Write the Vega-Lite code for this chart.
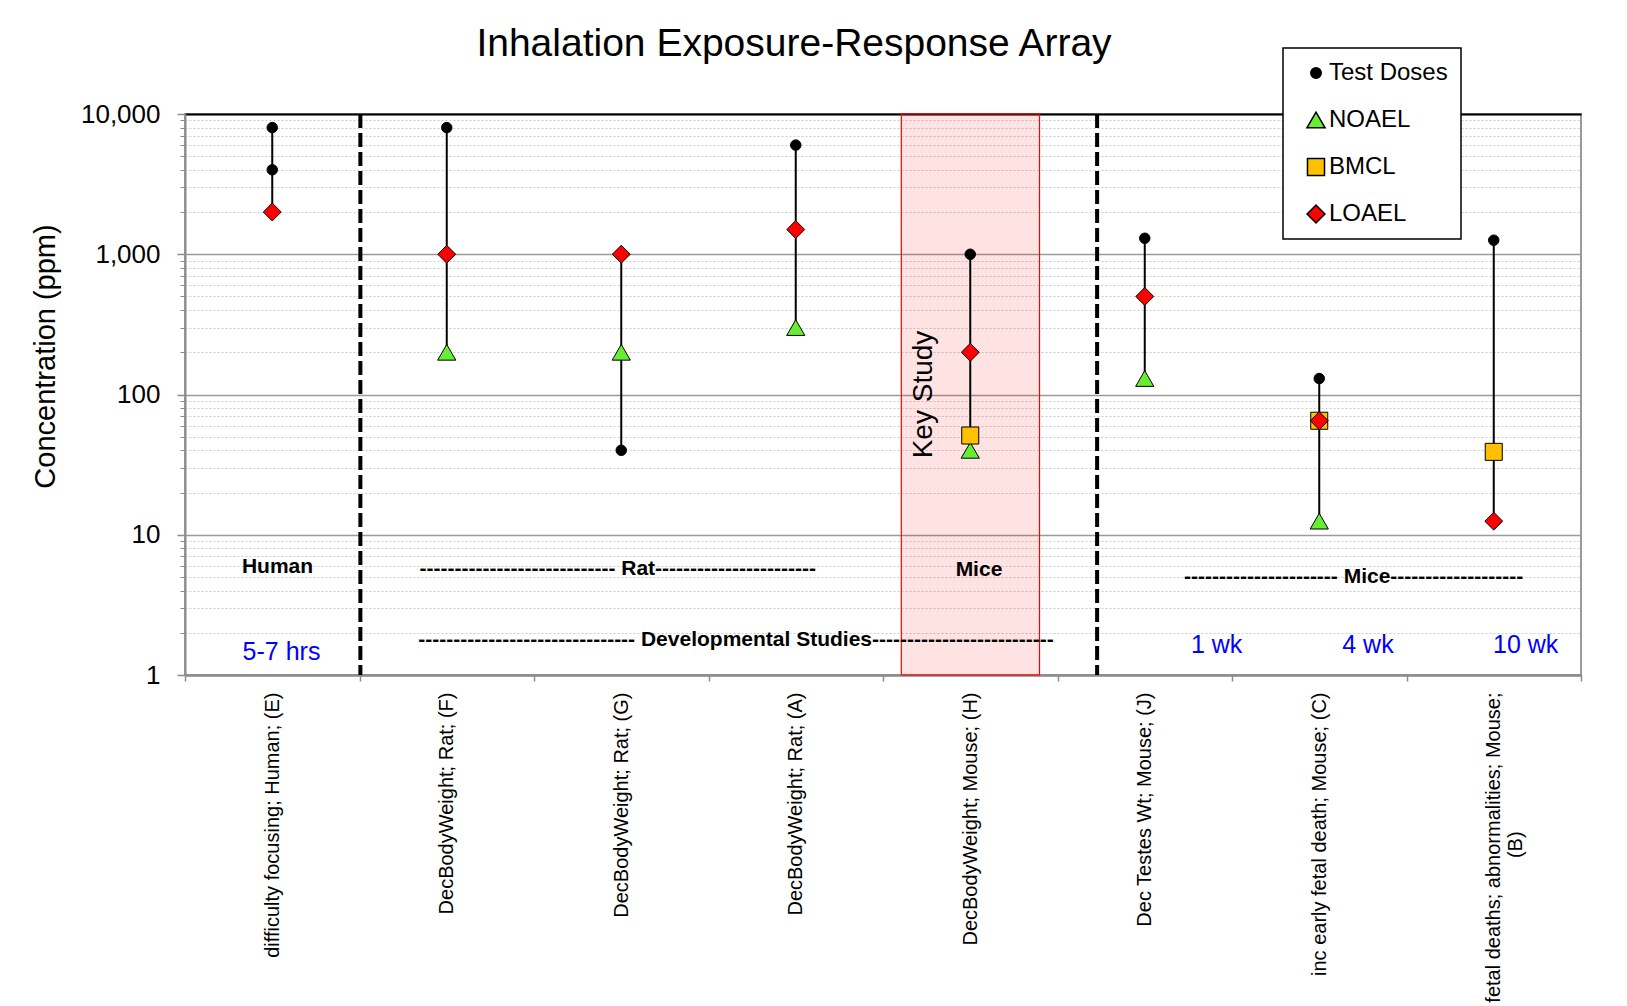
{
  "$schema": "https://vega.github.io/schema/vega-lite/v6.json",
  "width": 1396,
  "height": 561,
  "autosize": {"type": "none"},
  "padding": {"left": 185, "top": 114, "right": 46, "bottom": 331},
  "background": "white",
  "title": {
    "text": "Inhalation Exposure-Response Array",
    "font": "Liberation Sans",
    "fontSize": 39,
    "fontWeight": "normal",
    "color": "black",
    "anchor": "middle",
    "frame": "group",
    "dx": -89,
    "offset": -17
  },
  "config": {
    "font": "Liberation Sans",
    "view": {"stroke": "#9a9a9a", "strokeWidth": 2},
    "axis": {"labelFont": "Liberation Sans", "titleFont": "Liberation Sans", "labelColor": "black", "titleColor": "black", "titleFontWeight": "normal"},
    "legend": {
      "orient": "none",
      "legendX": 1098,
      "legendY": -66,
      "fillColor": "white",
      "strokeColor": "black",
      "strokeWidth": 1.5,
      "padding": 13,
      "symbolOffset": 8,
      "labelOffset": 1,
      "labelFont": "Liberation Sans",
      "labelFontSize": 24,
      "labelColor": "black",
      "rowPadding": 23
    }
  },
  "datasets": {
    "points": [
      {"study": "difficulty focusing; Human; (E)", "slot": 0.5, "type": "LOAEL", "value": 2000},
      {"study": "difficulty focusing; Human; (E)", "slot": 0.5, "type": "Test Doses", "value": 8000},
      {"study": "difficulty focusing; Human; (E)", "slot": 0.5, "type": "Test Doses", "value": 4000},
      {"study": "DecBodyWeight; Rat; (F)", "slot": 1.5, "type": "NOAEL", "value": 200},
      {"study": "DecBodyWeight; Rat; (F)", "slot": 1.5, "type": "LOAEL", "value": 1000},
      {"study": "DecBodyWeight; Rat; (F)", "slot": 1.5, "type": "Test Doses", "value": 8000},
      {"study": "DecBodyWeight; Rat; (G)", "slot": 2.5, "type": "NOAEL", "value": 200},
      {"study": "DecBodyWeight; Rat; (G)", "slot": 2.5, "type": "LOAEL", "value": 1000},
      {"study": "DecBodyWeight; Rat; (G)", "slot": 2.5, "type": "Test Doses", "value": 40},
      {"study": "DecBodyWeight; Rat; (A)", "slot": 3.5, "type": "NOAEL", "value": 300},
      {"study": "DecBodyWeight; Rat; (A)", "slot": 3.5, "type": "LOAEL", "value": 1500},
      {"study": "DecBodyWeight; Rat; (A)", "slot": 3.5, "type": "Test Doses", "value": 6000},
      {"study": "DecBodyWeight; Mouse; (H)", "slot": 4.5, "type": "NOAEL", "value": 40},
      {"study": "DecBodyWeight; Mouse; (H)", "slot": 4.5, "type": "BMCL", "value": 51},
      {"study": "DecBodyWeight; Mouse; (H)", "slot": 4.5, "type": "LOAEL", "value": 200},
      {"study": "DecBodyWeight; Mouse; (H)", "slot": 4.5, "type": "Test Doses", "value": 1000},
      {"study": "Dec Testes Wt; Mouse; (J)", "slot": 5.5, "type": "NOAEL", "value": 130},
      {"study": "Dec Testes Wt; Mouse; (J)", "slot": 5.5, "type": "LOAEL", "value": 500},
      {"study": "Dec Testes Wt; Mouse; (J)", "slot": 5.5, "type": "Test Doses", "value": 1300},
      {"study": "inc early fetal death; Mouse; (C)", "slot": 6.5, "type": "NOAEL", "value": 12.5},
      {"study": "inc early fetal death; Mouse; (C)", "slot": 6.5, "type": "BMCL", "value": 65},
      {"study": "inc early fetal death; Mouse; (C)", "slot": 6.5, "type": "LOAEL", "value": 65},
      {"study": "inc early fetal death; Mouse; (C)", "slot": 6.5, "type": "Test Doses", "value": 130},
      {"study": "fetal deaths; abnormalities; Mouse; (B)", "slot": 7.5, "type": "BMCL", "value": 39},
      {"study": "fetal deaths; abnormalities; Mouse; (B)", "slot": 7.5, "type": "LOAEL", "value": 12.5},
      {"study": "fetal deaths; abnormalities; Mouse; (B)", "slot": 7.5, "type": "Test Doses", "value": 1260}
    ],
    "stems": [
      {"study": "difficulty focusing; Human; (E)", "slot": 0.5, "lo": 2000, "hi": 8000},
      {"study": "DecBodyWeight; Rat; (F)", "slot": 1.5, "lo": 200, "hi": 8000},
      {"study": "DecBodyWeight; Rat; (G)", "slot": 2.5, "lo": 40, "hi": 1000},
      {"study": "DecBodyWeight; Rat; (A)", "slot": 3.5, "lo": 300, "hi": 6000},
      {"study": "DecBodyWeight; Mouse; (H)", "slot": 4.5, "lo": 40, "hi": 1000},
      {"study": "Dec Testes Wt; Mouse; (J)", "slot": 5.5, "lo": 130, "hi": 1300},
      {"study": "inc early fetal death; Mouse; (C)", "slot": 6.5, "lo": 12.5, "hi": 130},
      {"study": "fetal deaths; abnormalities; Mouse; (B)", "slot": 7.5, "lo": 12.5, "hi": 1260}
    ],
    "regions": [
      {"start": 4.105, "end": 4.897, "name": "Key Study"}
    ],
    "dividers": [
      {"pos": 1.005},
      {"pos": 5.227}
    ],
    "notes": [
      {"pos": 0.530, "value": 5.93, "text": "Human", "kind": "group"},
      {"pos": 2.480, "value": 5.73, "text": "---------------------------- Rat-----------------------", "kind": "group"},
      {"pos": 4.550, "value": 5.64, "text": "Mice", "kind": "group"},
      {"pos": 6.697, "value": 5.0, "text": "---------------------- Mice-------------------", "kind": "group"},
      {"pos": 3.158, "value": 1.77, "text": "------------------------------- Developmental Studies--------------------------", "kind": "group"},
      {"pos": 0.553, "value": 1.47, "text": "5-7 hrs", "kind": "duration"},
      {"pos": 5.912, "value": 1.63, "text": "1 wk", "kind": "duration"},
      {"pos": 6.779, "value": 1.63, "text": "4 wk", "kind": "duration"},
      {"pos": 7.683, "value": 1.63, "text": "10 wk", "kind": "duration"},
      {"pos": 4.234, "value": 100, "text": "Key Study", "kind": "key"}
    ]
  },
  "resolve": {"axis": {"x": "independent", "y": "independent"}},
  "layer": [
    {
      "data": {"name": "regions"},
      "mark": {"type": "rect", "fill": "#ff0000", "fillOpacity": 0.11, "stroke": "#ff0000", "strokeWidth": 1.2},
      "encoding": {
        "x": {"field": "start", "type": "quantitative", "scale": {"domain": [0, 8], "nice": false, "zero": false}, "axis": null},
        "x2": {"field": "end"}
      }
    },
    {
      "data": {"name": "stems"},
      "mark": {"type": "rule", "color": "black", "strokeWidth": 2},
      "encoding": {
        "x": {"field": "slot", "type": "quantitative", "scale": {"domain": [0, 8], "nice": false, "zero": false},
          "axis": {
            "orient": "bottom",
            "title": null,
            "values": [0, 1, 2, 3, 4, 5, 6, 7, 8],
            "labels": false,
            "grid": false,
            "domainColor": "#8c8c8c",
            "domainWidth": 2.5,
            "tickColor": "#8c8c8c",
            "tickSize": 6,
            "tickWidth": 1.5
          }
        },
        "y": {"field": "lo", "type": "quantitative", "scale": {"type": "log", "domain": [1, 10000], "nice": false},
          "axis": {
            "orient": "left",
            "title": null,
            "values": [2, 3, 4, 5, 6, 7, 8, 9, 20, 30, 40, 50, 60, 70, 80, 90, 200, 300, 400, 500, 600, 700, 800, 900, 2000, 3000, 4000, 5000, 6000, 7000, 8000, 9000],
            "labels": false,
            "domain": false,
            "tickColor": "#8c8c8c",
            "tickSize": 5,
            "tickWidth": 1,
            "grid": true,
            "gridColor": "#cdcdcd",
            "gridDash": [2, 2],
            "gridWidth": 1
          }
        },
        "y2": {"field": "hi"}
      }
    },
    {
      "data": {"name": "points"},
      "mark": {"type": "point", "filled": true, "stroke": "black", "strokeWidth": 1, "opacity": 1},
      "encoding": {
        "x": {"field": "slot", "type": "quantitative", "scale": {"domain": [0, 8], "nice": false, "zero": false},
          "axis": {
            "orient": "bottom",
            "title": null,
            "values": [0.5, 1.5, 2.5, 3.5, 4.5, 5.5, 6.5, 7.5],
            "labelExpr": "['difficulty focusing; Human; (E)', 'DecBodyWeight; Rat; (F)', 'DecBodyWeight; Rat; (G)', 'DecBodyWeight; Rat; (A)', 'DecBodyWeight; Mouse; (H)', 'Dec Testes Wt; Mouse; (J)', 'inc early fetal death; Mouse; (C)', ['fetal deaths; abnormalities; Mouse;', '(B)\u00a0\u00a0\u00a0\u00a0\u00a0\u00a0\u00a0\u00a0\u00a0\u00a0\u00a0\u00a0\u00a0\u00a0\u00a0\u00a0\u00a0\u00a0\u00a0\u00a0\u00a0\u00a0\u00a0\u00a0\u00a0\u200b']][floor(datum.value)]",
            "ticks": false,
            "tickSize": 0,
            "domain": false,
            "grid": false,
            "labelAngle": -90,
            "labelAlign": "right",
            "labelBaseline": "middle",
            "labelFontSize": 20,
            "labelLimit": 400,
            "labelPadding": 17,
            "labelOverlap": false,
            "labelFlush": false
          }
        },
        "y": {"field": "value", "type": "quantitative", "scale": {"type": "log", "domain": [1, 10000], "nice": false},
          "axis": {
            "orient": "left",
            "title": "Concentration (ppm)",
            "titleFontSize": 29,
            "titlePadding": 20,
            "titleY": 242,
            "values": [1, 10, 100, 1000, 10000],
            "format": ",",
            "labelOverlap": false,
            "labelFlush": false,
            "labelFontSize": 26,
            "labelPadding": 17,
            "domainColor": "#8c8c8c",
            "domainWidth": 2,
            "tickColor": "#8c8c8c",
            "tickSize": 8,
            "tickWidth": 1.5,
            "grid": true,
            "gridColor": "#9a9a9a",
            "gridWidth": 1.5
          }
        },
        "color": {"field": "type", "type": "nominal", "scale": {"domain": ["Test Doses", "NOAEL", "BMCL", "LOAEL"], "range": ["#000000", "#66ee33", "#ffc000", "#ff0000"]}, "legend": {"title": null}},
        "shape": {"field": "type", "type": "nominal", "scale": {"domain": ["Test Doses", "NOAEL", "BMCL", "LOAEL"], "range": ["circle", "triangle-up", "square", "diamond"]}, "legend": {"title": null}},
        "size": {"field": "type", "type": "nominal", "scale": {"type": "ordinal", "domain": ["Test Doses", "NOAEL", "BMCL", "LOAEL"], "range": [110, 330, 290, 320]}, "legend": {"title": null}}
      }
    },
    {
      "data": {"name": "dividers"},
      "mark": {"type": "rule", "color": "black", "strokeWidth": 4, "strokeDash": [14, 5]},
      "encoding": {
        "x": {"field": "pos", "type": "quantitative", "scale": {"domain": [0, 8], "nice": false, "zero": false},
          "axis": {"orient": "top", "title": null, "labels": false, "ticks": false, "grid": false, "domainColor": "black", "domainWidth": 2}}
      }
    },
    {
      "data": {"name": "notes"},
      "transform": [{"filter": "datum.kind == 'group'"}],
      "mark": {"type": "text", "font": "Liberation Sans", "fontWeight": "bold", "fontSize": 21, "color": "black", "align": "center", "baseline": "middle"},
      "encoding": {
        "x": {"field": "pos", "type": "quantitative", "scale": {"domain": [0, 8], "nice": false, "zero": false}, "axis": null},
        "y": {"field": "value", "type": "quantitative", "scale": {"type": "log", "domain": [1, 10000], "nice": false}, "axis": null},
        "text": {"field": "text"}
      }
    },
    {
      "data": {"name": "notes"},
      "transform": [{"filter": "datum.kind == 'duration'"}],
      "mark": {"type": "text", "font": "Liberation Sans", "fontSize": 25, "color": "#0000ff", "align": "center", "baseline": "middle"},
      "encoding": {
        "x": {"field": "pos", "type": "quantitative", "scale": {"domain": [0, 8], "nice": false, "zero": false}, "axis": null},
        "y": {"field": "value", "type": "quantitative", "scale": {"type": "log", "domain": [1, 10000], "nice": false}, "axis": null},
        "text": {"field": "text"}
      }
    },
    {
      "data": {"name": "notes"},
      "transform": [{"filter": "datum.kind == 'key'"}],
      "mark": {"type": "text", "font": "Liberation Sans", "fontSize": 28, "color": "black", "align": "center", "baseline": "middle", "angle": 270},
      "encoding": {
        "x": {"field": "pos", "type": "quantitative", "scale": {"domain": [0, 8], "nice": false, "zero": false}, "axis": null},
        "y": {"field": "value", "type": "quantitative", "scale": {"type": "log", "domain": [1, 10000], "nice": false}, "axis": null},
        "text": {"field": "text"}
      }
    }
  ]
}
